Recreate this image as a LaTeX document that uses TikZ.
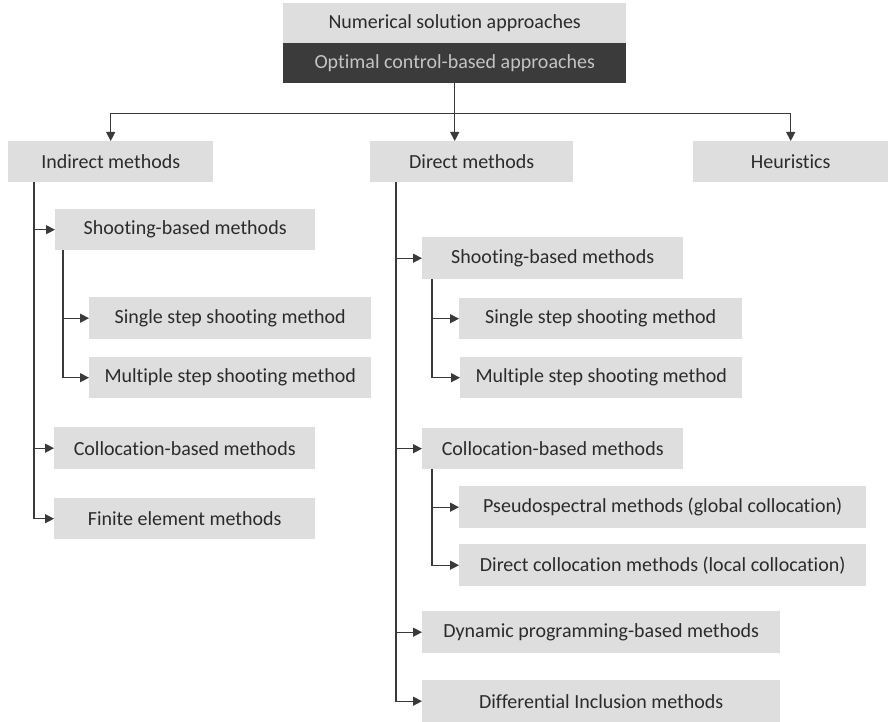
\documentclass[tikz,border=0pt]{standalone}
\usepackage{fontspec}
\setmainfont{Carlito}[Ligatures={NoCommon}]
\usetikzlibrary{arrows.meta}
\definecolor{boxgray}{HTML}{DEDEDE}
\definecolor{darkbox}{HTML}{3B3B3B}
\definecolor{txt}{HTML}{2B2B2B}
\definecolor{lighttxt}{HTML}{C4C4C4}
\definecolor{linec}{HTML}{3A3A3A}
\tikzset{
  box/.style={fill=boxgray, text=txt, inner sep=0pt, anchor=north west,
    font=\fontsize{20}{24}\selectfont},
  darkbx/.style={box, fill=darkbox, text=lighttxt},
  conn/.style={draw=linec, line width=1.3pt, -{Triangle[length=9pt,width=9pt]}},
}
\begin{document}
\begin{tikzpicture}[x=1pt,y=-1pt]
\useasboundingbox (0,0) rectangle (891,722);
% top
\node[box, minimum width=343pt, minimum height=40pt] (num) at (283,3) {Numerical solution approaches};
\node[darkbx, minimum width=343pt, minimum height=40pt] (opt) at (283,43) {Optimal control-based approaches};
% level 1
\node[box, minimum width=205pt, minimum height=41pt] (ind) at (8,141) {Indirect methods};
\node[box, minimum width=203pt, minimum height=41pt] (dir) at (370,141) {Direct methods};
\node[box, minimum width=195pt, minimum height=41pt] (heu) at (693,141) {Heuristics};
% indirect children
\node[box, minimum width=260pt, minimum height=41pt] (ish) at (55,209) {Shooting-based methods};
\node[box, minimum width=282pt, minimum height=42pt] (iss) at (89,297) {Single step shooting method};
\node[box, minimum width=282pt, minimum height=41pt] (ims) at (89,357) {Multiple step shooting method};
\node[box, minimum width=261pt, minimum height=42pt] (ico) at (54,427) {Collocation-based methods};
\node[box, minimum width=261pt, minimum height=41pt] (ife) at (54,498) {Finite element methods};
% direct children
\node[box, minimum width=261pt, minimum height=42pt] (dsh) at (422,237) {Shooting-based methods};
\node[box, minimum width=283pt, minimum height=41pt] (dss) at (459,298) {Single step shooting method};
\node[box, minimum width=282pt, minimum height=41pt] (dms) at (460,357) {Multiple step shooting method};
\node[box, minimum width=261pt, minimum height=41pt] (dco) at (422,428) {Collocation-based methods};
\node[box, minimum width=407pt, minimum height=42pt] (dps) at (459,486) {Pseudospectral methods (global collocation)};
\node[box, minimum width=407pt, minimum height=42pt] (dlc) at (459,544) {Direct collocation methods (local collocation)};
\node[box, minimum width=358pt, minimum height=42pt] (ddp) at (422,611) {Dynamic programming-based methods};
\node[box, minimum width=358pt, minimum height=42pt] (ddi) at (422,680) {Differential Inclusion methods};
% top connectors
\draw[conn] (opt.south) -- ++(0,-30pt) -| (ind.north);
\draw[conn] (opt.south) -- (opt.south |- dir.north);
\draw[conn] (opt.south) -- ++(0,-30pt) -| (heu.north);
% indirect connectors
\draw[conn] ([xshift=26pt]ind.south west) |- (ish.west);
\draw[conn] ([xshift=26pt]ind.south west) |- (ico.west);
\draw[conn] ([xshift=26pt]ind.south west) |- (ife.west);
\draw[conn] ([xshift=8pt]ish.south west) |- (iss.west);
\draw[conn] ([xshift=8pt]ish.south west) |- (ims.west);
% direct connectors
\draw[conn] ([xshift=26pt]dir.south west) |- (dsh.west);
\draw[conn] ([xshift=26pt]dir.south west) |- (dco.west);
\draw[conn] ([xshift=26pt]dir.south west) |- (ddp.west);
\draw[conn] ([xshift=26pt]dir.south west) |- (ddi.west);
\draw[conn] ([xshift=10pt]dsh.south west) |- (dss.west);
\draw[conn] ([xshift=10pt]dsh.south west) |- (dms.west);
\draw[conn] ([xshift=10pt]dco.south west) |- (dps.west);
\draw[conn] ([xshift=10pt]dco.south west) |- (dlc.west);
\end{tikzpicture}
\end{document}
